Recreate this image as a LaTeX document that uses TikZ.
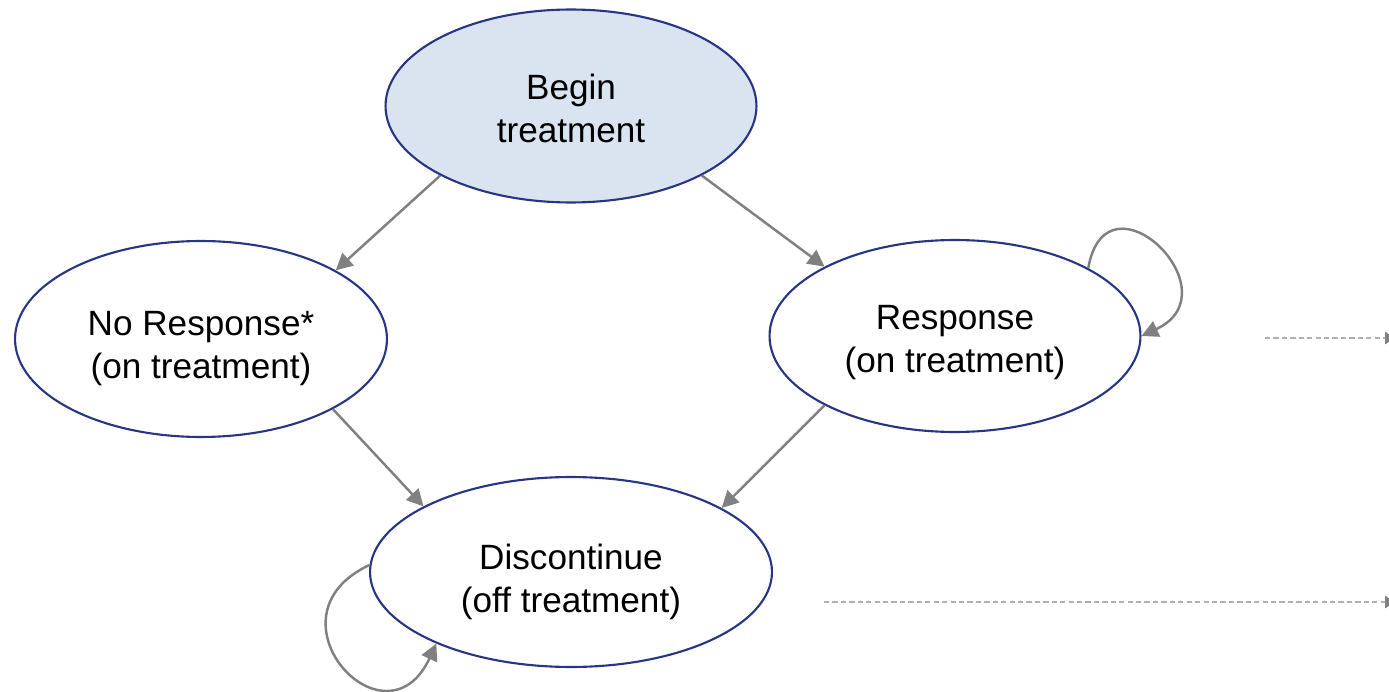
\documentclass[tikz,border=0pt]{standalone}
\usepackage{fontspec}
\setmainfont{Liberation Sans}
\usetikzlibrary{arrows.meta,shapes.geometric,calc}
\definecolor{navyline}{RGB}{40,52,132}
\definecolor{paleblue}{RGB}{218,228,240}
\definecolor{arrowgray}{RGB}{128,128,128}
\definecolor{dashgray}{RGB}{176,176,176}
\tikzset{
  state/.style={ellipse,draw=navyline,line width=1.2pt,fill=white,inner sep=0pt},
  statetext/.style={align=center,inner sep=0pt,font=\fontsize{20}{24.5}\selectfont},
  trans/.style={draw=arrowgray,line width=1.4pt,-{Triangle[length=9.5pt,width=9.5pt]}},
  exit/.style={draw=dashgray,line width=0.8pt,dash pattern=on 3pt off 1.8pt,
    -{Triangle[length=5pt,width=7pt,fill=arrowgray,color=arrowgray]}}
}
\begin{document}
\begin{tikzpicture}[x=0.02cm,y=-0.02cm]
			\useasboundingbox (0,0) rectangle (1389,692);
			% states
			\node [state,fill=paleblue,minimum width=7.42cm,minimum height=3.86cm] (begin) at (571,106) {};
			\node [state,minimum width=7.44cm,minimum height=3.92cm] (noresp) at (201,339) {};
			\node [state,minimum width=7.42cm,minimum height=3.84cm] (resp) at (955,336) {};
			\node [state,minimum width=8.04cm,minimum height=3.8cm] (disc) at (571,572) {};
			\node [statetext] (begintext) at ($(begin)+(0,2)$) {Begin\\treatment};
			\node [statetext] (noresptext) at ($(noresp)+(0,10)$) {No Response*\\(on treatment)};
			\node [statetext] (resptext) at ($(resp)+(0,7)$) {Response\\(on treatment)};
			\node [statetext] (disctext) at ($(disc)+(0,10)$) {Discontinue\\(off treatment)};
			% transitions
			\draw [trans] (begin.208) -- (noresp.27);
			\draw [trans] (begin.332) -- (resp.152);
			\draw [trans] (noresp.332) -- (disc.156);
			\draw [trans] (resp.208.5) -- (disc.23.6);
			\draw [trans] (resp.27) to [out=80,in=25,looseness=3.1] (resp.0);
			\draw [trans] (disc.178) to [out=205,in=245,looseness=3] (disc.208);
			% leaving the picture
			\coordinate (respout) at (1265,338);
			\coordinate (respend) at (1394,338);
			\coordinate (discout) at (824,602);
			\coordinate (discend) at (1394,602);
			\draw [exit] (respout) -- (respend);
			\draw [exit] (discout) -- (discend);
			\end{tikzpicture}
\end{document}
